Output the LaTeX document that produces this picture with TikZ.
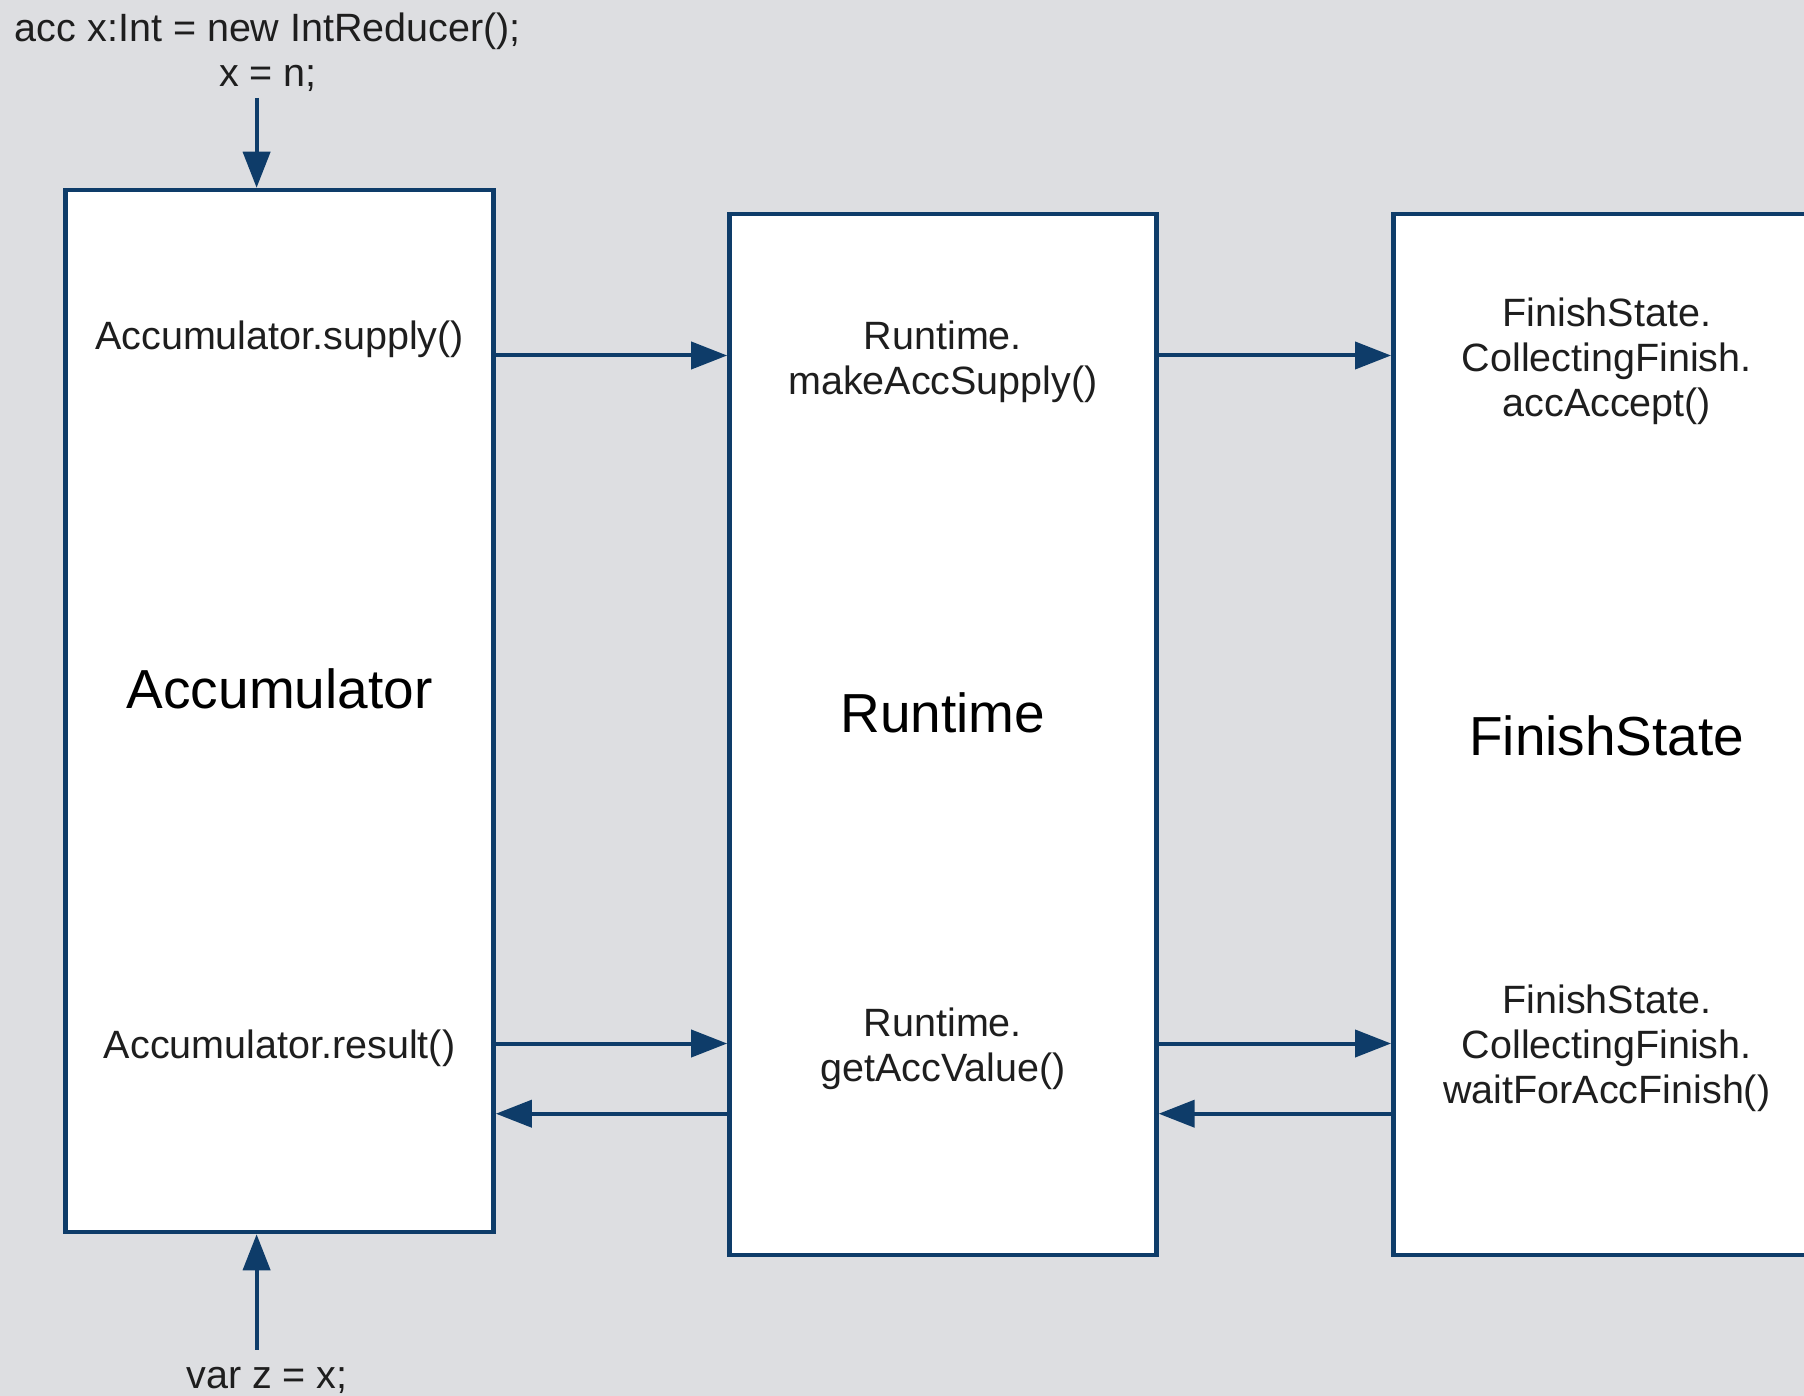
\documentclass[tikz,border=0pt]{standalone}
\usepackage{fontspec}
\setmainfont{Liberation Sans}
\usetikzlibrary{arrows.meta}
\definecolor{bg}{RGB}{221,222,225}
\definecolor{navy}{RGB}{14,60,105}
\definecolor{ink}{RGB}{30,30,30}

\begin{document}
\begin{tikzpicture}[x=1pt,y=-1pt,
  block/.style={draw=navy, line width=4.5pt, fill=white, inner sep=0pt},
  lbl/.style={text=ink, font=\fontsize{39.5}{45}\selectfont, align=center, inner sep=0pt},
  ttl/.style={text=black, font=\fontsize{55}{60}\selectfont, inner sep=0pt},
  flow/.style={draw=navy, line width=4pt, -{Triangle[length=36pt,width=27pt]}}]

% canvas
\fill[bg] (0,0) rectangle (1804,1396);
\useasboundingbox (0,0) rectangle (1804,1396);
\clip (0,0) rectangle (1804,1396);

% the three components
\node[block, minimum width=428pt, minimum height=1042pt] (acc) at (279.6,711) {};
\node[block, minimum width=427pt, minimum height=1041pt] (rt)  at (942.9,734.7) {};
\node[block, minimum width=427pt, minimum height=1041pt] (fs)  at (1606.8,734.7) {};

% component titles
\node[ttl] (acct) at (279.6,689) {Accumulator};
\node[ttl] (rtt)  at (942.9,713) {Runtime};
\node[ttl] (fst)  at (1606.8,736) {FinishState};

% method labels
\node[lbl] (accsup) at (279.6,339.5) {Accumulator.supply()};
\node[lbl] (accres) at (279.6,1048) {Accumulator.result()};
\node[lbl] (rtsup)  at (942.9,362) {Runtime.\\makeAccSupply()};
\node[lbl] (rtval)  at (942.9,1048.5) {Runtime.\\getAccValue()};
\node[lbl] (fsacc)  at (1606.8,361.5) {FinishState.\\CollectingFinish.\\accAccept()};
\node[lbl] (fswait) at (1606.8,1048) {FinishState.\\CollectingFinish.\\waitForAccFinish()};

% source snippets
\node[lbl] (init) at (268,52.5) {acc x:Int = new IntReducer();\\x = n;};
\node[lbl] (use)  at (267,1380.5) {var z = x;};

% call levels
\coordinate (ysup) at (0,355.5);
\coordinate (yres) at (0,1043.5);
\coordinate (yret) at (0,1113.7);
\coordinate (inx)  at (256.6,97.8);
\coordinate (outx) at (256.6,1349.5);

% connectors
\draw[flow] (inx) -- (inx |- acc.north);
\draw[flow] (outx) -- (outx |- acc.south);
\draw[flow] (acc.east |- ysup) -- (rt.west |- ysup);
\draw[flow] (rt.east |- ysup) -- (fs.west |- ysup);
\draw[flow] (acc.east |- yres) -- (rt.west |- yres);
\draw[flow] (rt.east |- yres) -- (fs.west |- yres);
\draw[flow] (rt.west |- yret) -- (acc.east |- yret);
\draw[flow] (fs.west |- yret) -- (rt.east |- yret);
\end{tikzpicture}
\end{document}
